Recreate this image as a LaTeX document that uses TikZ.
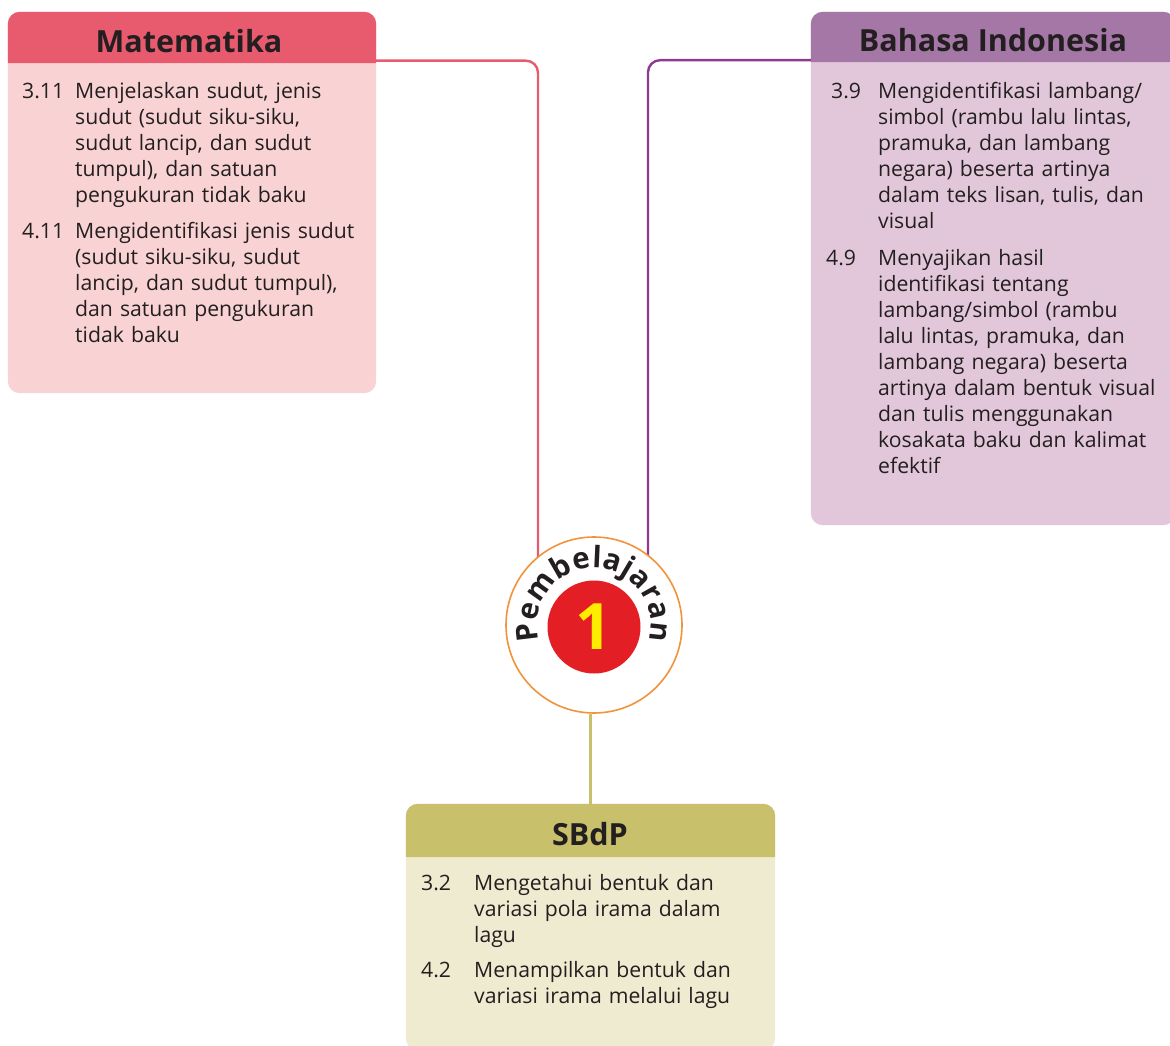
\documentclass[tikz,border=0pt]{standalone}
\usepackage{fontspec}
\setmainfont{Open Sans}
\usetikzlibrary{decorations.text,backgrounds}
\definecolor{textc}{HTML}{231F20}
\definecolor{matheadc}{HTML}{E85A6E}
\definecolor{matbodyc}{HTML}{F9D3D3}
\definecolor{baheadc}{HTML}{A577A6}
\definecolor{babodyc}{HTML}{E2C7DA}
\definecolor{sbheadc}{HTML}{C8C06A}
\definecolor{sbbodyc}{HTML}{EFEBD0}
\definecolor{pinkln}{HTML}{E85A6E}
\definecolor{purpln}{HTML}{8E3A92}
\definecolor{oliveln}{HTML}{C8C06A}
\definecolor{orangec}{HTML}{F2923A}
\definecolor{redc}{HTML}{E31E24}
\definecolor{yellowc}{HTML}{FFED00}
\begin{document}
\begin{tikzpicture}[x=1pt,y=1pt,
  hdr/.style={rectangle, inner sep=0pt, draw=none},
  title/.style={font=\bfseries\fontsize{30.5}{30.5}\selectfont, text=textc, inner sep=0pt, anchor=base},
  num/.style={font=\fontsize{21.2}{26}\selectfont, text=textc, inner sep=0pt, anchor=base west},
  txt/.style={font=\fontsize{21.2}{26}\selectfont, text=textc, inner sep=0pt, anchor=base west, align=left, text width=300pt},
  conn/.style={line width=2.4pt, rounded corners=12pt}]
\useasboundingbox (0,0) rectangle (1170,-1046);
\clip (0,0) rectangle (1170,-1046);

% ---------- Matematika ----------
\node[hdr, minimum width=368, minimum height=51] (mathd) at (192,-37.5) {};
\node[hdr, minimum width=368, minimum height=330] (matbd) at (192,-228) {};
\node[title] (matt) at (189,-53) {Matematika};
\node[num] (m1n) at (22,-99) {3.11};
\node[txt] (m1t) at (75,-99) {Menjelaskan sudut, jenis\\sudut (sudut siku-siku,\\sudut lancip, dan sudut\\tumpul), dan satuan\\pengukuran tidak baku};
\node[num] (m2n) at (22,-238) {4.11};
\node[txt] (m2t) at (75,-238) {Mengidentifikasi jenis sudut\\(sudut siku-siku, sudut\\lancip, dan sudut tumpul),\\dan satuan pengukuran\\tidak baku};

% ---------- Bahasa Indonesia ----------
\node[hdr, minimum width=364, minimum height=50] (bahd) at (993,-37) {};
\node[hdr, minimum width=364, minimum height=463] (babd) at (993,-293.5) {};
\node[title] (bat) at (993,-52) {Bahasa Indonesia};
\node[num] (b1n) at (831,-99) {3.9};
\node[txt] (b1t) at (878,-99) {Mengidentifikasi lambang/\\simbol (rambu lalu lintas,\\pramuka, dan lambang\\negara) beserta artinya\\dalam teks lisan, tulis, dan\\visual};
\node[num] (b2n) at (826,-265) {4.9};
\node[txt] (b2t) at (878,-265) {Menyajikan hasil\\identifikasi tentang\\lambang/simbol (rambu\\lalu lintas, pramuka, dan\\lambang negara) beserta\\artinya dalam bentuk visual\\dan tulis menggunakan\\kosakata baku dan kalimat\\efektif};

% ---------- SBdP ----------
\node[hdr, minimum width=369, minimum height=53] (sbhd) at (590.5,-830.5) {};
\node[hdr, minimum width=369, minimum height=193] (sbbd) at (590.5,-953.5) {};
\node[title] (sbt) at (590,-845) {SBdP};
\node[num] (s1n) at (421,-890) {3.2};
\node[txt] (s1t) at (474,-890) {Mengetahui bentuk dan\\variasi pola irama dalam\\lagu};
\node[num] (s2n) at (421,-977) {4.2};
\node[txt] (s2t) at (474,-977) {Menampilkan bentuk dan\\variasi irama melalui lagu};

% ---------- Pembelajaran badge ----------
\node[circle, draw=orangec, line width=1.6pt, fill=white, minimum size=176, inner sep=0pt] (pb) at (594,-625) {};
\node[circle, fill=redc, minimum size=93, inner sep=0pt, font=\bfseries\fontsize{64}{64}\selectfont, text=yellowc] (one) at (594,-627) {1};
\path[decorate, decoration={text along path, text color=textc,
    text={|\bfseries\fontsize{29.5}{29.5}\selectfont|Pembelajaran}, text align=fit to path}]
  (pb.center) ++(196:57) arc[start angle=196, end angle=-16, radius=57];

\coordinate (pinkend) at ([xshift=-56pt]pb.center);
\coordinate (purpend) at ([xshift=54pt]pb.center);

\begin{scope}[on background layer]
  \fill[matbodyc, rounded corners=12pt] (mathd.north west) rectangle (matbd.south east);
  \fill[matheadc] (mathd.south west) [rounded corners=12pt] -- (mathd.north west) -- (mathd.north east) [sharp corners] -- (mathd.south east) -- cycle;
  \fill[babodyc, rounded corners=12pt] (bahd.north west) rectangle (babd.south east);
  \fill[baheadc] (bahd.south west) [rounded corners=12pt] -- (bahd.north west) -- (bahd.north east) [sharp corners] -- (bahd.south east) -- cycle;
  \fill[sbbodyc, rounded corners=12pt] (sbhd.north west) rectangle (sbbd.south east);
  \fill[sbheadc] (sbhd.south west) [rounded corners=12pt] -- (sbhd.north west) -- (sbhd.north east) [sharp corners] -- (sbhd.south east) -- cycle;
  \draw[conn, pinkln] ([yshift=2.5pt]mathd.south east) -| (pinkend);
  \draw[conn, purpln] ([yshift=2pt]bahd.south west) -| (purpend);
  \draw[line width=3pt, oliveln] (sbhd.north) -- (sbhd.north |- pb.south);
\end{scope}
\end{tikzpicture}
\end{document}
